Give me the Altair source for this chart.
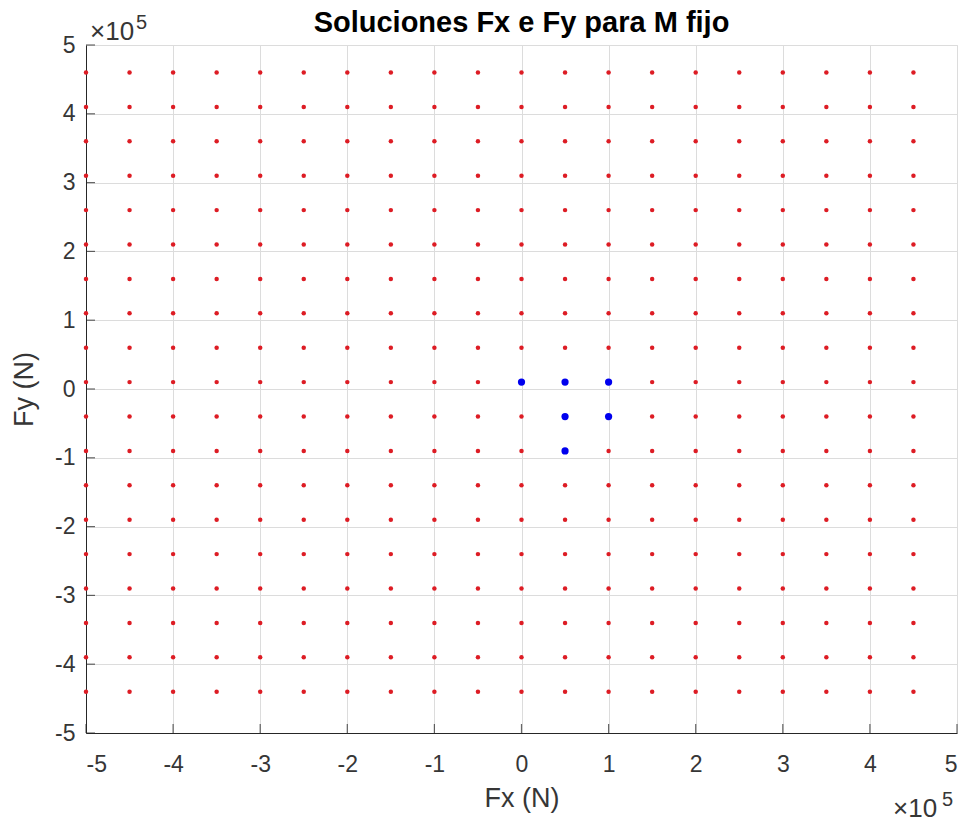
import altair as alt
import pandas as pd

# Grid of candidate force values (N)
fx_grid = [-500000, -450000, -400000, -350000, -300000, -250000, -200000, -150000,
           -100000, -50000, 0, 50000, 100000, 150000, 200000, 250000, 300000,
           350000, 400000, 450000]
fy_grid = [460000, 410000, 360000, 310000, 260000, 210000, 160000, 110000, 60000,
           10000, -40000, -90000, -140000, -190000, -240000, -290000, -340000,
           -390000, -440000]

# Solutions (blue)
sol_fx = [0, 50000, 100000, 50000, 100000, 50000]
sol_fy = [10000, 10000, 10000, -40000, -40000, -90000]

tick_vals = [-500000, -400000, -300000, -200000, -100000, 0, 100000, 200000,
             300000, 400000, 500000]

W, H = 871, 688
FONT = "Liberation Sans"
DARK = "#262626"
LABEL = "#363636"

grid_df = pd.DataFrame([(x, y) for y in fy_grid for x in fx_grid], columns=["Fx", "Fy"])
sol_df = pd.DataFrame({"Fx": sol_fx, "Fy": sol_fy})
xticks_df = pd.DataFrame({"Fx": tick_vals})
yticks_df = pd.DataFrame({"Fy": tick_vals})
one = pd.DataFrame({"a": [0]})

xs = alt.Scale(domain=[-500000, 500000], nice=False, zero=False)
ys = alt.Scale(domain=[-500000, 500000], nice=False, zero=False)

common_axis = dict(values=tick_vals, labelExpr="datum.value / 100000", tickSize=0,
                   grid=True, gridColor="#dcdcdc", gridWidth=1,
                   domainColor=DARK, domainWidth=1,
                   labelColor=LABEL, labelFont=FONT, labelFontSize=23,
                   titleColor=LABEL, titleFont=FONT, titleFontSize=27,
                   titleFontWeight="normal")

x_axis = alt.Axis(title="Fx (N)", labelPadding=20, titlePadding=9, **common_axis)
y_axis = alt.Axis(title="Fy (N)", labelPadding=11, titlePadding=16, **common_axis)

X = alt.X("Fx:Q", scale=xs, axis=x_axis)
Y = alt.Y("Fy:Q", scale=ys, axis=y_axis)

red = alt.Chart(grid_df).mark_circle(size=20, color="#dd1c24", opacity=1).encode(x=X, y=Y)
blue = alt.Chart(sol_df).mark_circle(size=52, color="#0000ee", opacity=1).encode(x=X, y=Y)

xticks = alt.Chart(xticks_df).mark_tick(size=9, thickness=1.2, color=DARK, orient="vertical").encode(
    x=X, y=alt.value(H - 4.5),
)
yticks = alt.Chart(yticks_df).mark_tick(size=9, thickness=1.2, color=DARK, orient="horizontal").encode(
    y=Y, x=alt.value(4.5),
)

def txt(s, x, y, size, align="left", weight="normal", color=LABEL):
    return alt.Chart(one).mark_text(align=align, baseline="alphabetic", font=FONT,
                                    fontSize=size, fontWeight=weight, color=color).encode(
        x=alt.value(x), y=alt.value(y), text=alt.value(s))

text_layers = [
    txt("Soluciones Fx e Fy para M fijo", W / 2, -13, 29, align="center",
        weight="bold", color="black"),
    txt("×10", 4, -5, 26), txt("5", 50, -16, 20),
    txt("×10", 807, 772, 26), txt("5", 856, 761, 20),
]

chart = alt.layer(red, blue, xticks, yticks, *text_layers).properties(
    width=W, height=H,
    autosize="none",
    padding={"left": 86, "top": 45, "right": 11, "bottom": 89},
).configure_view(stroke=None).configure(background="white")

chart.save("out.html", embed_options={"renderer": "svg", "actions": False})
